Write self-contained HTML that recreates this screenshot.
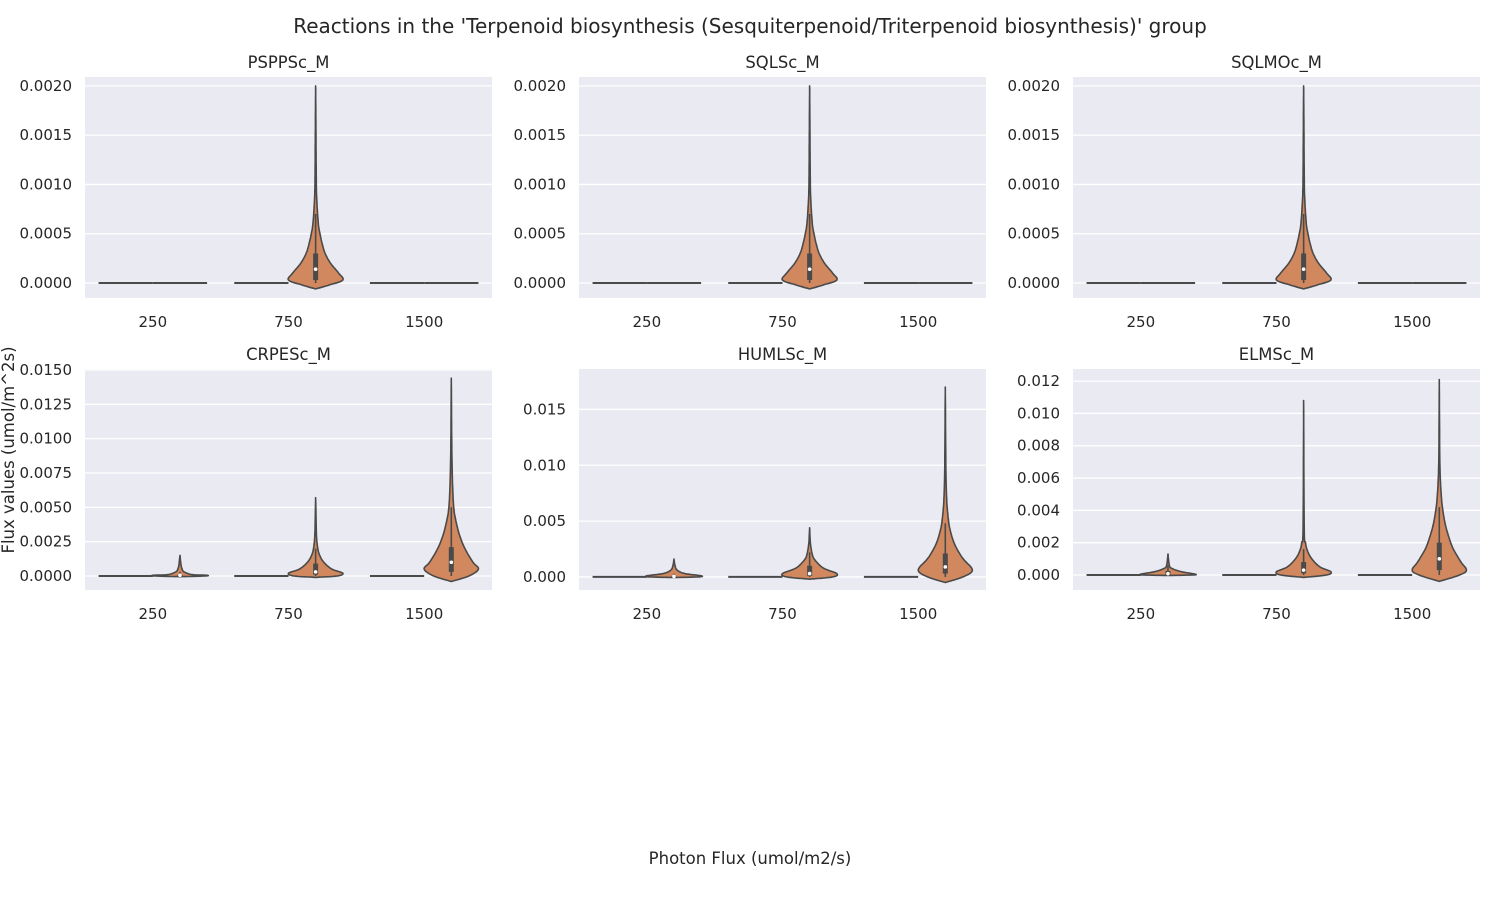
<!DOCTYPE html>
<html><head><meta charset="utf-8">
<style>
body{margin:0;background:#fff;}
svg text{font-family:"DejaVu Sans","Liberation Sans",sans-serif;fill:#262626;}
</style></head>
<body>
<svg id="chart" width="1500" height="900" viewBox="0 0 1500 900" xmlns="http://www.w3.org/2000/svg">
<text x="750" y="33" text-anchor="middle" font-size="20">Reactions in the 'Terpenoid biosynthesis (Sesquiterpenoid/Triterpenoid biosynthesis)' group</text>
<text x="750" y="864" text-anchor="middle" font-size="16.5">Photon Flux (umol/m2/s)</text>
<text x="14" y="450" text-anchor="middle" font-size="16.5" transform="rotate(-90 14 450)">Flux values (umol/m^2s)</text>
</svg>
<script>
const categories = ["250","750","1500"];
const panelNames = ["PSPPSc_M","SQLSc_M","SQLMOc_M","CRPESc_M","HUMLSc_M","ELMSc_M"];
const yTicks = [
 [0,0.0005,0.001,0.0015,0.002],[0,0.0005,0.001,0.0015,0.002],[0,0.0005,0.001,0.0015,0.002],
 [0,0.0025,0.005,0.0075,0.01,0.0125,0.015],[0,0.005,0.01,0.015],[0,0.002,0.004,0.006,0.008,0.01,0.012]];
const yTickLabels = [
 ["0.0000","0.0005","0.0010","0.0015","0.0020"],["0.0000","0.0005","0.0010","0.0015","0.0020"],["0.0000","0.0005","0.0010","0.0015","0.0020"],
 ["0.0000","0.0025","0.0050","0.0075","0.0100","0.0125","0.0150"],["0.000","0.005","0.010","0.015"],["0.000","0.002","0.004","0.006","0.008","0.010","0.012"]];
const yMin = [-0.000152,-0.000152,-0.000152,-0.00102,-0.00117,-0.00093];
const yMax = [0.00209,0.00209,0.00209,0.01507,0.01862,0.01275];
const topLevels = [-0.00006,-0.00002,0.00003,0.0001,0.0002,0.0003,0.0004,0.0005,0.0006,0.0008,0.001,0.0015,0.002];
const topWidths = [0,0.5,1.0,0.85,0.55,0.35,0.24,0.16,0.1,0.05,0.025,0.012,0];
const topBox = [0.00003,0.00014,0.0003,0,0.0007];
const crp250L=[-0.00005,0,0.00005,0.0001,0.0003,0.0005,0.0008,0.0015], crp250W=[0,0.9,1.0,0.45,0.15,0.08,0.04,0];
const crp750L=[-0.0001,0,0.0002,0.0005,0.001,0.0015,0.002,0.003,0.0057], crp750W=[0,0.8,1.0,0.6,0.3,0.15,0.08,0.03,0];
const crp1500L=[-0.0004,0,0.0005,0.001,0.002,0.003,0.004,0.005,0.007,0.01,0.0144], crp1500W=[0,0.65,1.0,0.8,0.5,0.3,0.17,0.09,0.04,0.015,0];
const hum250L=[-0.00005,0,0.0001,0.0003,0.0006,0.001,0.0016], hum250W=[0,0.9,1.0,0.4,0.12,0.04,0];
const hum750L=[-0.0002,0,0.0003,0.0008,0.0015,0.002,0.003,0.0044], hum750W=[0,0.85,1.0,0.5,0.2,0.1,0.03,0];
const hum1500L=[-0.0005,0,0.0006,0.0015,0.002,0.003,0.004,0.005,0.007,0.01,0.017], hum1500W=[0,0.65,1.0,0.7,0.55,0.33,0.2,0.12,0.05,0.02,0];
const elm250L=[-0.00003,0,0.00005,0.0002,0.0004,0.0006,0.0013], elm250W=[0,0.9,1.0,0.5,0.15,0.05,0];
const elm750L=[-0.00015,0,0.0002,0.0005,0.001,0.0015,0.002,0.003,0.0108], elm750W=[0,0.85,1.0,0.6,0.3,0.14,0.07,0.02,0];
const elm1500L=[-0.0004,0,0.0003,0.0008,0.0015,0.002,0.003,0.004,0.005,0.007,0.0121], elm1500W=[0,0.75,1.0,0.8,0.55,0.42,0.24,0.13,0.07,0.02,0];
const violinLevels = [
 [null,topLevels,null],[null,topLevels,null],[null,topLevels,null],
 [crp250L,crp750L,crp1500L],[hum250L,hum750L,hum1500L],[elm250L,elm750L,elm1500L]];
const violinWidths = [
 [null,topWidths,null],[null,topWidths,null],[null,topWidths,null],
 [crp250W,crp750W,crp1500W],[hum250W,hum750W,hum1500W],[elm250W,elm750W,elm1500W]];
const boxStats = [
 [null,topBox,null],[null,topBox,null],[null,topBox,null],
 [[0,0.00005,0.0001,0,0.0003],[0.0001,0.0003,0.0009,0,0.002],[0.0003,0.001,0.0021,0,0.005]],
 [[0,0.00005,0.0001,0,0.0003],[0.0001,0.0003,0.001,0,0.0022],[0.0003,0.0009,0.0021,0,0.0048]],
 [[0,0.00008,0.00025,0,0.0006],[0.0001,0.0003,0.0008,0,0.0016],[0.0003,0.001,0.002,0,0.0042]]];

const NS="http://www.w3.org/2000/svg";
const svg=document.getElementById('chart');
function mk(tag,attrs,parent){const e=document.createElementNS(NS,tag);for(const k in attrs)e.setAttribute(k,attrs[k]);(parent||svg).appendChild(e);return e;}
function smooth(P){
  const out=[];
  for(let i=0;i<P.length-1;i++){
    const p0=P[Math.max(0,i-1)],p1=P[i],p2=P[i+1],p3=P[Math.min(P.length-1,i+2)];
    for(let s=0;s<8;s++){
      const t=s/8,t2=t*t,t3=t2*t;
      const f=(a,b,c,d)=>0.5*((2*b)+(-a+c)*t+(2*a-5*b+4*c-d)*t2+(-a+3*b-3*c+d)*t3);
      out.push([f(p0[0],p1[0],p2[0],p3[0]),Math.max(0,f(p0[1],p1[1],p2[1],p3[1]))]);
    }
  }
  out.push(P[P.length-1]);
  return out;
}
const colX=[85,579,1073], rowY=[77,369], PW=407, PH=221;
const LINE="#4a4a4a", FILL="#d1885e";
panelNames.forEach((name,pi)=>{
  const x0=colX[pi%3], y0=rowY[Math.floor(pi/3)];
  const g=mk('g',{});
  
  
  const yS=v=>y0+PH-(v-yMin[pi])/(yMax[pi]-yMin[pi])*PH;
  const catW=PW/3;
  const xS=i=>x0+catW*(i+0.5);
  const bg=mk('rect',{x:x0,y:y0,width:PW,height:PH,fill:'#eaeaf2'},g);
  
  
  yTicks[pi].forEach((t,ti)=>{
    const y=yS(t);
    const gl=mk('line',{x1:x0,x2:x0+PW,y1:y,y2:y,stroke:'#fff','stroke-width':1.3},g);
    
    
    const tl=mk('text',{x:x0-13,y:y+5,'text-anchor':'end','font-size':15},g);
    tl.textContent=yTickLabels[pi][ti];
    
    
  });
  const tt=mk('text',{x:x0+PW/2,y:y0-9,'text-anchor':'middle','font-size':16.4},g);
  tt.textContent=name;
  
  
  categories.forEach((c,ci)=>{
    const cx=xS(ci), hw=catW*0.4/2;
    const xl=mk('text',{x:cx,y:y0+PH+29,'text-anchor':'middle','font-size':15},g);
    xl.textContent=c;
    
    
    const f=mk('line',{x1:cx-2*hw,x2:cx,y1:yS(0),y2:yS(0),stroke:LINE,'stroke-width':2},g);
    
    
    const L=violinLevels[pi][ci], W=violinWidths[pi][ci];
    const vc=cx+hw;
    if(!L){
      const f2=mk('line',{x1:cx,x2:cx+2*hw,y1:yS(0),y2:yS(0),stroke:LINE,'stroke-width':2},g);
      
      
      return;
    }
    const raw=L.map((v,k)=>[yS(v),W[k]*hw]);
    const sm=smooth(raw);
    let pts=[];
    sm.forEach(p=>pts.push([vc+p[1],p[0]]));
    for(let k=sm.length-1;k>=0;k--)pts.push([vc-sm[k][1],sm[k][0]]);
    const v=mk('polygon',{points:pts.map(p=>p[0].toFixed(1)+','+p[1].toFixed(1)).join(' '),fill:FILL,stroke:LINE,'stroke-width':1.6,'stroke-linejoin':'round'},g);
    
    
    const b=boxStats[pi][ci];
    const wl=mk('line',{x1:vc,x2:vc,y1:yS(b[3]),y2:yS(b[4]),stroke:LINE,'stroke-width':1.6},g);
    
    
    const bx=mk('line',{x1:vc,x2:vc,y1:yS(b[0]),y2:yS(b[2]),stroke:LINE,'stroke-width':5},g);
    
    
    const md=mk('circle',{cx:vc,cy:yS(b[1]),r:1.8,fill:'#fff'},g);
    
    
  });
});
</script>
</body></html>
